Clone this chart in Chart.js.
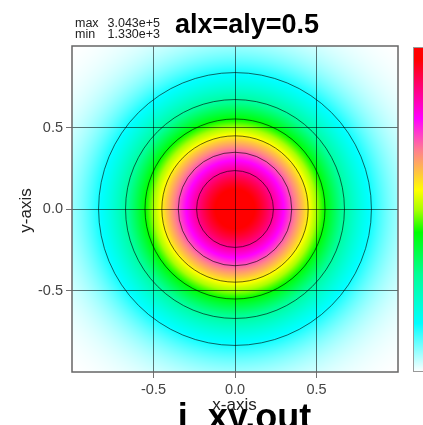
<!DOCTYPE html>
<html lang="en">
<head>
<meta charset="UTF-8">
<title>i_xy.out</title>
<script src="https://cdn.jsdelivr.net/npm/chart.js"></script>
<style>
    body { margin: 0; background: #fff; }
    .chart-box { width: 423px; height: 425px; }
</style>
</head>
<body>
<div class="chart-box"><canvas id="fieldChart" width="423" height="425"></canvas></div>
<script>
// tick positions on both axes, and the plotted range
const axisTicks = [-0.5, 0.0, 0.5];
const axisMin = -1;
const axisMax = 1;

// intensity field: peak, floor and 1/e radius of the gaussian spot
const fieldMax = 3.043e5;
const fieldMin = 1.330e3;
const spotRadius = 0.6;

// contour levels (1/7 steps of the peak)
const contourLevels = [43471, 86943, 130414, 173886, 217357, 260829];

// colour scale, low (0) to high (1)
const scaleStops = [0, 0.15, 0.30, 0.43, 0.50, 0.56, 0.61, 0.68, 0.78, 0.96, 1];
const scaleColors = [
    [255, 255, 255], [0, 255, 255], [0, 255, 150], [0, 255, 0], [170, 255, 0],
    [255, 255, 0], [255, 200, 60], [255, 130, 140], [255, 0, 255], [255, 0, 0], [255, 0, 0]
];

const fontFamily = '"Liberation Sans", Arial, sans-serif';

function fieldValue(x, y) {
    return fieldMax * Math.exp(-(x * x + y * y) / (spotRadius * spotRadius));
}

function colourAt(v) {
    v = Math.max(0, Math.min(1, v));
    for (let i = 1; i < scaleStops.length; i++) {
        if (v <= scaleStops[i]) {
            const t = (v - scaleStops[i - 1]) / (scaleStops[i] - scaleStops[i - 1]);
            const a = scaleColors[i - 1], b = scaleColors[i];
            return [a[0] + (b[0] - a[0]) * t, a[1] + (b[1] - a[1]) * t, a[2] + (b[2] - a[2]) * t];
        }
    }
    return scaleColors[scaleColors.length - 1];
}

const fieldPlugin = {
    id: 'fieldMap',
    beforeDraw(chart) {
        const { ctx, chartArea: a, scales: { x, y } } = chart;
        const left = Math.round(a.left), top = Math.round(a.top);
        const w = Math.round(a.right) - left, h = Math.round(a.bottom) - top;
        const img = ctx.createImageData(w, h);
        for (let j = 0; j < h; j++) {
            const yv = y.getValueForPixel(top + j + 0.5);
            for (let i = 0; i < w; i++) {
                const xv = x.getValueForPixel(left + i + 0.5);
                const v = (fieldValue(xv, yv) - fieldMin) / (fieldMax - fieldMin);
                const c = colourAt(v);
                const k = (j * w + i) * 4;
                img.data[k] = c[0];
                img.data[k + 1] = c[1];
                img.data[k + 2] = c[2];
                img.data[k + 3] = 255;
            }
        }
        ctx.putImageData(img, left, top);
    },
    afterDatasetsDraw(chart) {
        const { ctx, chartArea: a, scales: { x, y } } = chart;
        const cx = x.getPixelForValue(0), cy = y.getPixelForValue(0);
        ctx.save();
        ctx.beginPath();
        ctx.rect(a.left, a.top, a.right - a.left, a.bottom - a.top);
        ctx.clip();
        ctx.strokeStyle = 'rgba(0,0,0,0.6)';
        ctx.lineWidth = 1;
        contourLevels.forEach(level => {
            const r = spotRadius * Math.sqrt(Math.log(fieldMax / level));
            ctx.beginPath();
            ctx.arc(cx, cy, x.getPixelForValue(r) - cx, 0, Math.PI * 2);
            ctx.stroke();
        });
        ctx.restore();

        // plot frame
        ctx.save();
        ctx.strokeStyle = '#666';
        ctx.lineWidth = 1.5;
        ctx.strokeRect(a.left, a.top, a.right - a.left, a.bottom - a.top);
        ctx.restore();
    },
    afterDraw(chart) {
        const { ctx, chartArea: a } = chart;
        ctx.save();

        // max / min readout
        ctx.fillStyle = '#222';
        ctx.font = '12.5px ' + fontFamily;
        ctx.textBaseline = 'alphabetic';
        ctx.textAlign = 'left';
        ctx.fillText('max', 75, 27);
        ctx.fillText('min', 75, 38);
        ctx.textAlign = 'right';
        ctx.fillText(fieldMax.toExponential(3), 160, 27);
        ctx.fillText(fieldMin.toExponential(3), 160, 38);

        // title
        ctx.fillStyle = '#000';
        ctx.font = 'bold 27px ' + fontFamily;
        ctx.textAlign = 'center';
        ctx.fillText('alx=aly=0.5', 247, 33);

        // file name under the plot
        ctx.font = 'bold 36px ' + fontFamily;
        ctx.fillText('i_xy.out', 244.5, 429);

        // axis titles
        ctx.fillStyle = '#222';
        ctx.font = '17px ' + fontFamily;
        ctx.fillText('x-axis', 234.5, 410);
        ctx.save();
        ctx.translate(31, 210.5);
        ctx.rotate(-Math.PI / 2);
        ctx.fillText('y-axis', 0, 0);
        ctx.restore();

        // colour bar
        const barX = 413, barW = 11, barTop = a.top + 1, barBottom = a.bottom;
        const grad = ctx.createLinearGradient(0, barBottom, 0, barTop);
        scaleStops.forEach((s, i) => {
            const c = scaleColors[i];
            grad.addColorStop(s, `rgb(${c[0]},${c[1]},${c[2]})`);
        });
        ctx.fillStyle = grad;
        ctx.fillRect(barX, barTop, barW, barBottom - barTop);
        ctx.strokeStyle = '#999';
        ctx.lineWidth = 1;
        ctx.strokeRect(barX + 0.5, barTop + 0.5, barW, barBottom - barTop - 1);
        ctx.restore();
    }
};

const tickFont = { family: fontFamily, size: 14.5 };

function axisOptions(fixSize) {
    return {
        type: 'linear',
        min: axisMin,
        max: axisMax,
        afterBuildTicks: s => { s.ticks = axisTicks.map(v => ({ value: v })); },
        afterFit: fixSize,
        border: { display: false },
        grid: { color: 'rgba(0,0,0,0.55)', lineWidth: 1, tickLength: 6 },
        ticks: { font: tickFont, color: '#444', padding: 3, callback: v => v.toFixed(1) }
    };
}

new Chart(document.getElementById('fieldChart'), {
    type: 'scatter',
    data: { datasets: [{ data: [] }] },
    options: {
        responsive: false,
        animation: false,
        devicePixelRatio: 1,
        layout: { padding: { left: 0, top: 46, right: 25, bottom: 0 } },
        plugins: { legend: { display: false }, tooltip: { enabled: false } },
        scales: {
            x: axisOptions(s => { s.height = 53; }),
            y: axisOptions(s => { s.width = 72; })
        }
    },
    plugins: [fieldPlugin]
});
</script>
</body>
</html>
